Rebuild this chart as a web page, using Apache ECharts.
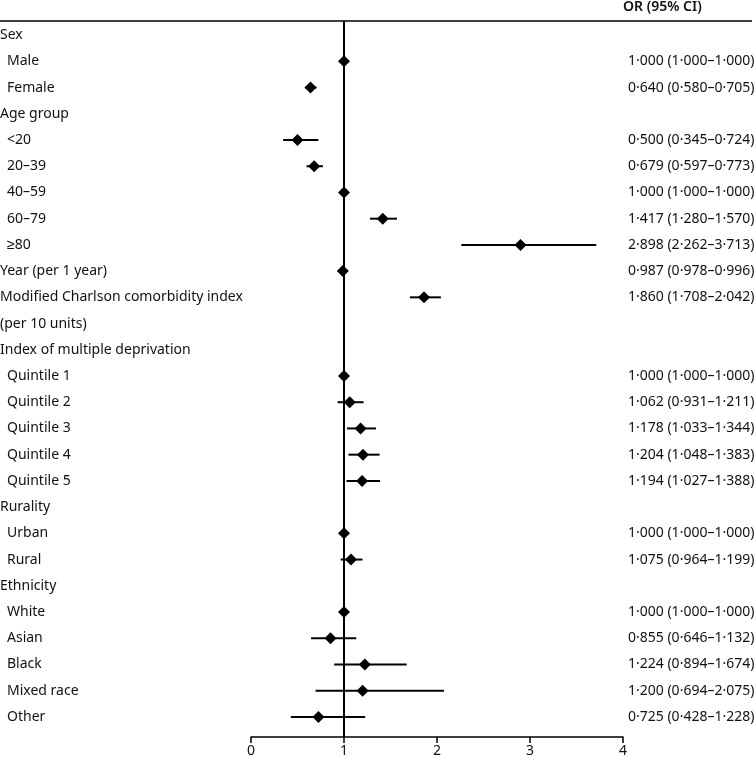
<!DOCTYPE html>
<html><head><meta charset="utf-8">
<script src="https://cdn.jsdelivr.net/npm/echarts@6/dist/echarts.min.js"></script>
<style>html,body{margin:0;padding:0;background:#fff}#c{width:756px;height:759px}</style>
</head><body><div id="c"></div>
<script>
const rowLabels = ['Sex','Male','Female','Age group','<20','20–39','40–59','60–79','≥80','Year (per 1 year)','Modified Charlson comorbidity index','(per 10 units)','Index of multiple deprivation','Quintile 1','Quintile 2','Quintile 3','Quintile 4','Quintile 5','Rurality','Urban','Rural','Ethnicity','White','Asian','Black','Mixed race','Other'];
const indented = [0,1,1,0,1,1,1,1,1,0,0,0,0,1,1,1,1,1,0,1,1,0,1,1,1,1,1];
const orValues = [null,1.000,0.640,null,0.500,0.679,1.000,1.417,2.898,0.987,1.860,null,null,1.000,1.062,1.178,1.204,1.194,null,1.000,1.075,null,1.000,0.855,1.224,1.200,0.725];
const ciLower  = [null,1.000,0.580,null,0.345,0.597,1.000,1.280,2.262,0.978,1.708,null,null,1.000,0.931,1.033,1.048,1.027,null,1.000,0.964,null,1.000,0.646,0.894,0.694,0.428];
const ciUpper  = [null,1.000,0.705,null,0.724,0.773,1.000,1.570,3.713,0.996,2.042,null,null,1.000,1.211,1.344,1.383,1.388,null,1.000,1.199,null,1.000,1.132,1.674,2.075,1.228];
const xTicks = [0,1,2,3,4];
const refValue = 1;
const headerText = 'OR (95% CI)';

const FONT = '"Noto Sans", sans-serif';
const TXT = '#111';
const fmt = v => v.toFixed(3).replace('.', '·');
const rightLabels = rowLabels.map((_, i) => orValues[i] == null ? '' : fmt(orValues[i]) + ' (' + fmt(ciLower[i]) + '–' + fmt(ciUpper[i]) + ')');

const ciData = [], ptData = [];
rowLabels.forEach((_, i) => {
  if (orValues[i] != null) {
    ciData.push([ciLower[i], ciUpper[i], i]);
    ptData.push([orValues[i], i]);
  }
});

const chart = echarts.init(document.getElementById('c'), null, {renderer: 'canvas'});
chart.setOption({
  animation: false,
  backgroundColor: '#fff',
  textStyle: {fontFamily: FONT},
  title: {
    text: headerText, left: 623, top: 0, padding: 0,
    textStyle: {fontFamily: FONT, fontSize: 14, fontWeight: 600, color: TXT}
  },
  graphic: [{
    type: 'line', shape: {x1: 0, y1: 21, x2: 752, y2: 21},
    style: {stroke: '#000', lineWidth: 1.5}, silent: true
  }],
  grid: {left: 251, right: 133, top: 22, bottom: 29, containLabel: false, outerBoundsMode: 'none'},
  xAxis: {
    type: 'value', min: xTicks[0], max: xTicks[xTicks.length - 1], interval: 1, offset: 7,
    axisLine: {show: true, lineStyle: {color: '#000', width: 1.5}},
    axisTick: {show: true, length: 6, lineStyle: {color: '#000', width: 1.5}},
    axisLabel: {color: TXT, fontSize: 14, fontFamily: FONT, margin: 7},
    splitLine: {show: false}
  },
  yAxis: [{
    type: 'category', inverse: true, data: rowLabels,
    axisLine: {show: false}, axisTick: {show: false}, splitLine: {show: false},
    axisLabel: {
      interval: 0, align: 'left', margin: 251, color: TXT, fontSize: 14, fontFamily: FONT,
      formatter: (v, i) => indented[i] ? '{s|' + v + '}' : '{h|' + v + '}',
      rich: {
        h: {fontSize: 14, fontFamily: FONT, color: TXT},
        s: {fontSize: 14, fontFamily: FONT, color: TXT, padding: [0, 0, 0, 7]}
      }
    }
  }, {
    type: 'category', inverse: true, position: 'right', data: rightLabels,
    axisLine: {show: false}, axisTick: {show: false}, splitLine: {show: false},
    axisLabel: {interval: 0, align: 'left', margin: 5, color: TXT, fontSize: 14, fontFamily: FONT}
  }],
  series: [{
    type: 'custom', name: 'ref', z: 1,
    data: [[refValue, 0]],
    encode: {x: 0, y: 1},
    renderItem: (params, api) => {
      const cs = params.coordSys;
      const x = api.coord([api.value(0), 0])[0];
      return {type: 'line', shape: {x1: x, y1: cs.y - 1, x2: x, y2: cs.y + cs.height + 7},
        style: {stroke: '#000', lineWidth: 2}};
    }
  }, {
    type: 'custom', name: 'ci', z: 2,
    data: ciData,
    encode: {x: [0, 1], y: 2},
    renderItem: (params, api) => {
      const a = api.coord([api.value(0), api.value(2)]);
      const b = api.coord([api.value(1), api.value(2)]);
      return {type: 'line', shape: {x1: a[0], y1: a[1], x2: b[0], y2: b[1]},
        style: {stroke: '#000', lineWidth: 2}};
    }
  }, {
    type: 'scatter', name: 'OR', z: 3,
    data: ptData, symbol: 'diamond', symbolSize: 12,
    itemStyle: {color: '#000', opacity: 1}
  }]
});
</script></body></html>
